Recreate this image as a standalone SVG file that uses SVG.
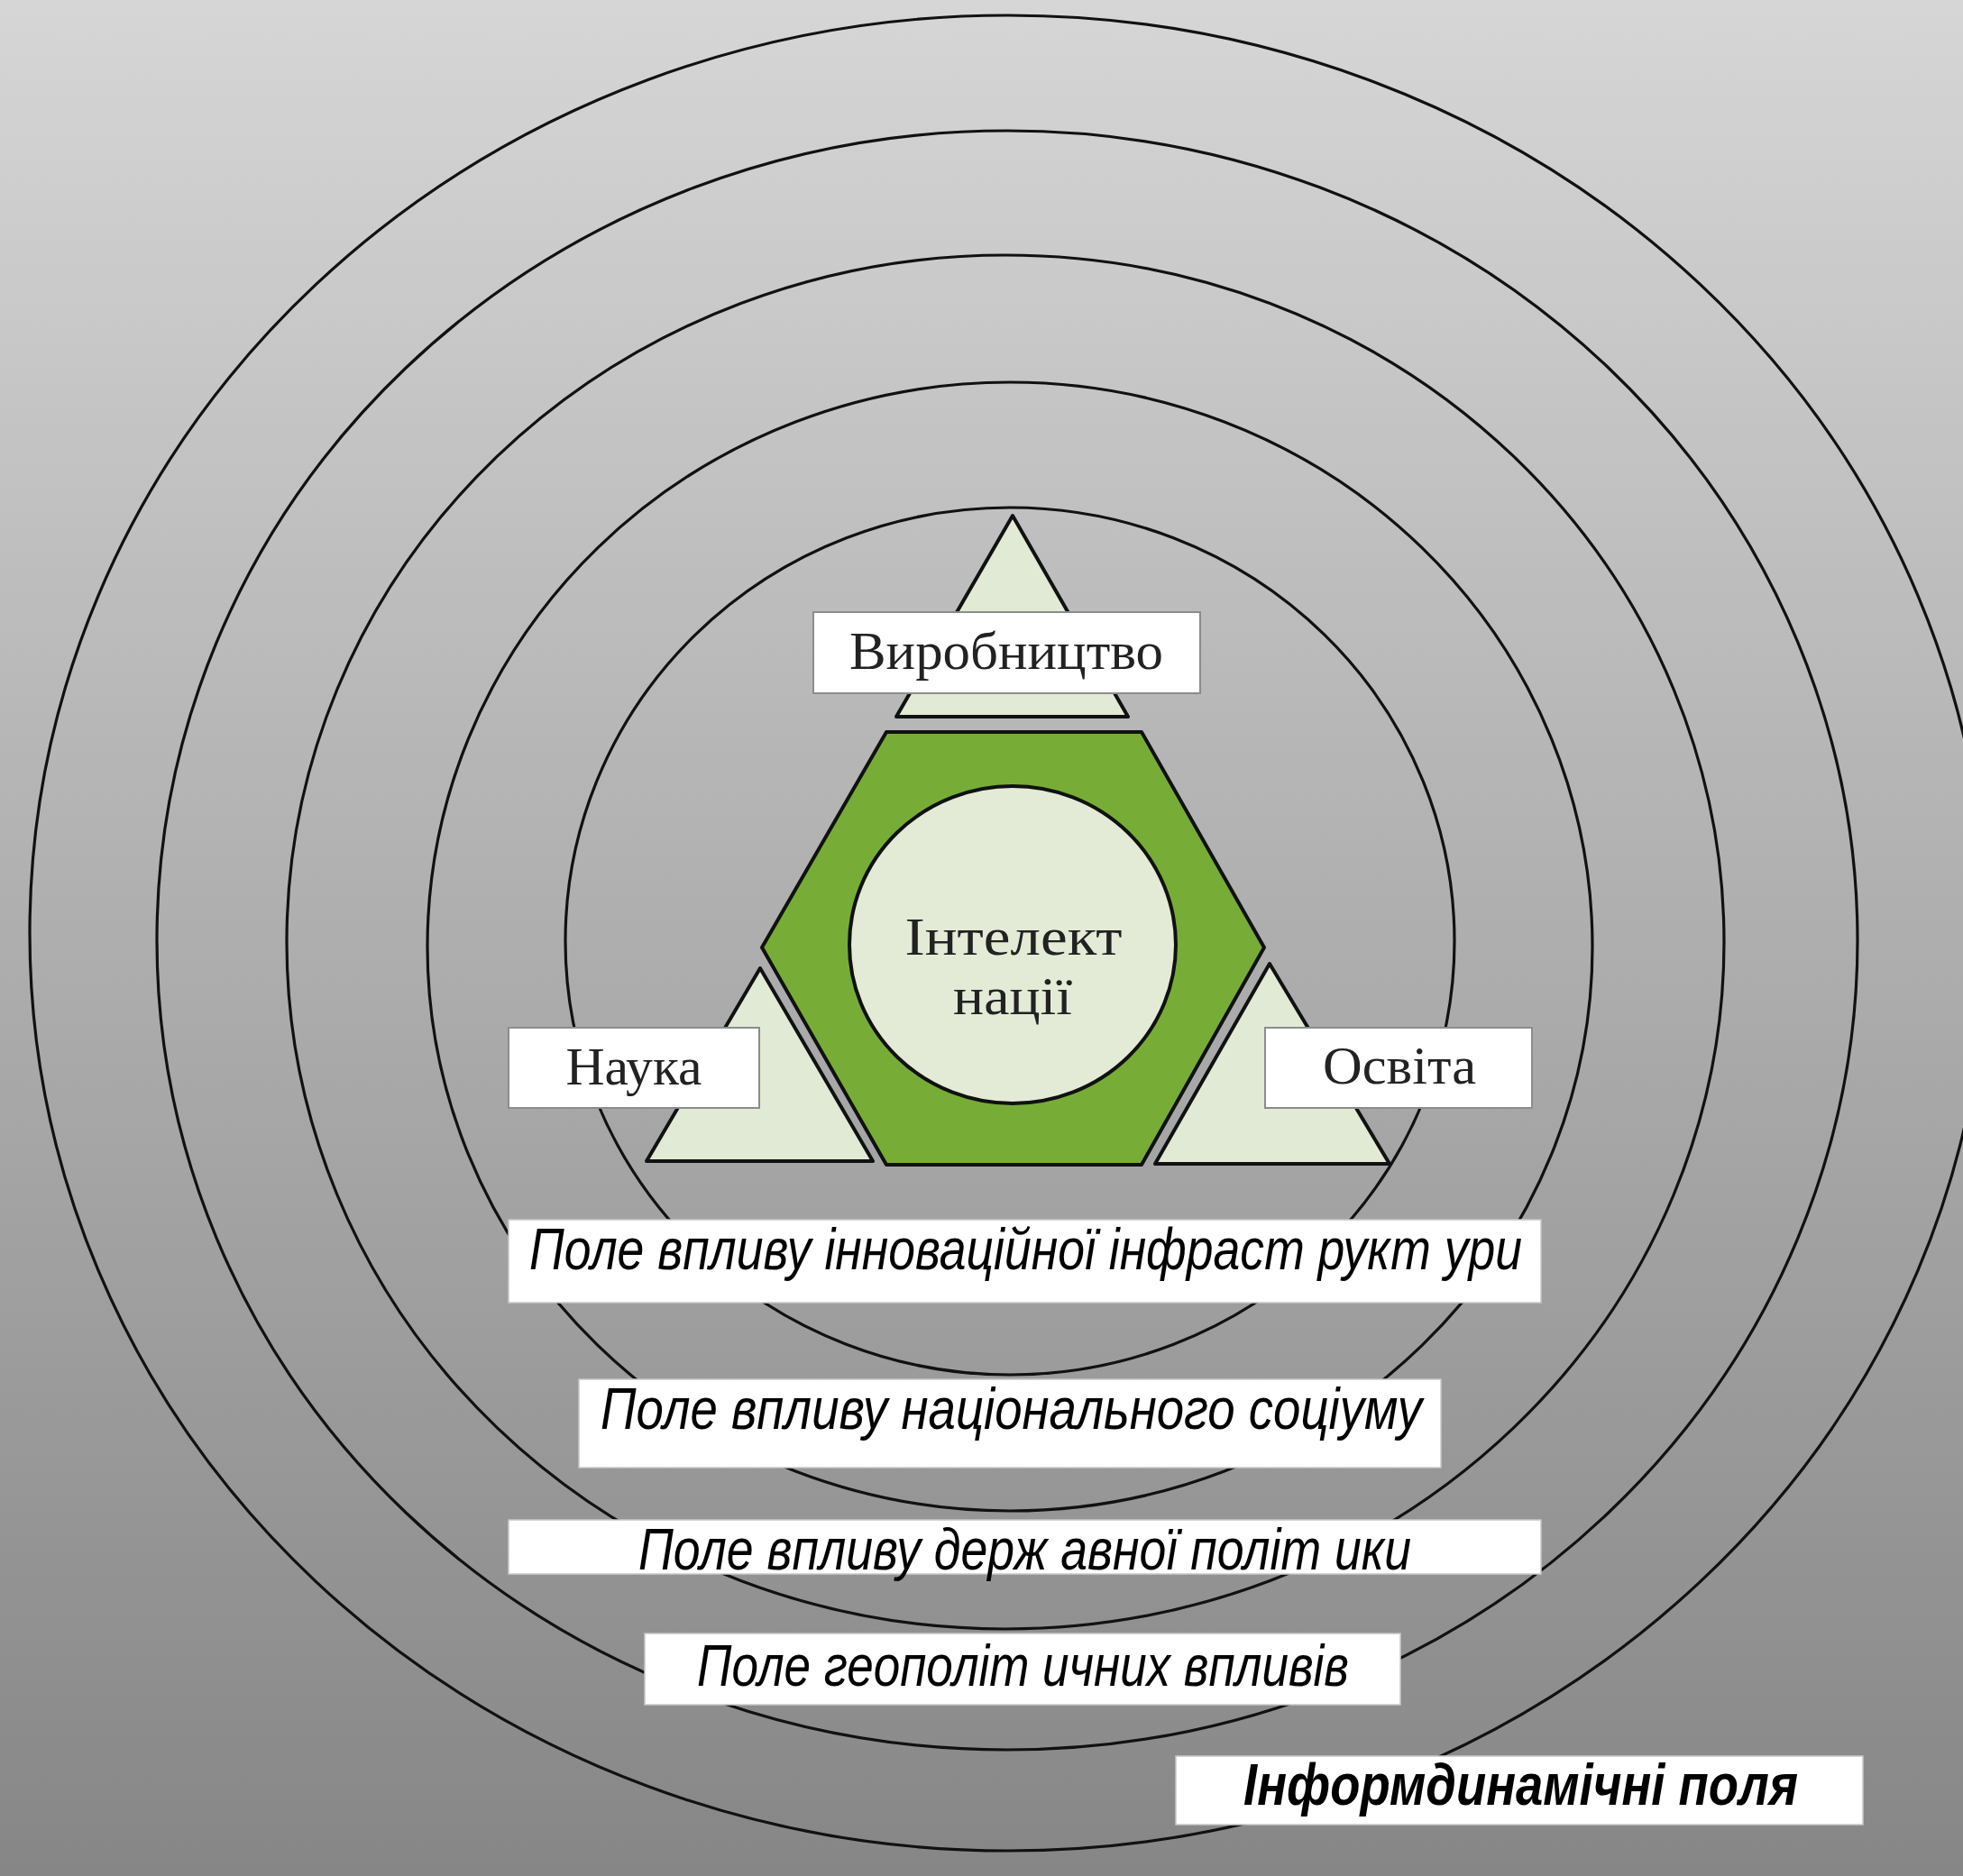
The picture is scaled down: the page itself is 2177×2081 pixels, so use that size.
<svg xmlns="http://www.w3.org/2000/svg" width="2177" height="2081" viewBox="0 0 2177 2081">
<defs>
<linearGradient id="bg" x1="0" y1="0" x2="0" y2="1">
<stop offset="0" stop-color="#d6d6d6"/>
<stop offset="1" stop-color="#868686"/>
</linearGradient>
<style>
.ring{fill:none;stroke:#111;stroke-width:3.2}
.tri{fill:#e1ead4;stroke:#111;stroke-width:4;stroke-linejoin:round}
.hex{fill:#77ad37;stroke:#111;stroke-width:4;stroke-linejoin:round}
.core{fill:#e3ebd6;stroke:#111;stroke-width:4}
.lbl{fill:#fff;stroke:#8c8c8c;stroke-width:2}
.fbox{fill:#fff;stroke:#c8c8c8;stroke-width:1.5}
.serif{font-family:"Liberation Serif","Times New Roman",serif;font-size:60px;fill:#222;text-anchor:middle}
.ital{font-family:"Liberation Sans",Arial,sans-serif;font-style:italic;font-size:64px;fill:#000}
</style>
</defs>
<rect x="0" y="0" width="2177" height="2081" fill="url(#bg)"/>
<g id="rings">
<ellipse class="ring" cx="1118" cy="1035" rx="1085" ry="1018"/>
<ellipse class="ring" cx="1117" cy="1043" rx="943" ry="898"/>
<ellipse class="ring" cx="1115" cy="1045" rx="797" ry="762"/>
<ellipse class="ring" cx="1120" cy="1050" rx="646" ry="626"/>
<ellipse class="ring" cx="1120" cy="1044" rx="493" ry="481"/>
</g>
<g id="connectors"></g>
<g id="node-vyrobnytstvo">
<polygon class="tri" points="1123,572 1251,795 994,795"/>
<rect class="lbl" x="902" y="679" width="429" height="90"/>
<text class="serif" x="1116" y="742" textLength="348" lengthAdjust="spacingAndGlyphs">Виробництво</text>
</g>
<g id="node-nauka">
<polygon class="tri" points="843,1074 968,1288 717,1288"/>
<rect class="lbl" x="564" y="1140" width="278" height="89"/>
<text class="serif" x="703" y="1203" textLength="151" lengthAdjust="spacingAndGlyphs">Наука</text>
</g>
<g id="node-osvita">
<polygon class="tri" points="1408,1069 1541,1291 1281,1291"/>
<rect class="lbl" x="1403" y="1140" width="296" height="89"/>
<text class="serif" x="1552" y="1202" textLength="170" lengthAdjust="spacingAndGlyphs">Освіта</text>
</g>
<g id="node-intelekt">
<polygon class="hex" points="983,812 1266,812 1402,1051 1266,1292 983,1292 845,1051"/>
<ellipse class="core" cx="1123" cy="1048" rx="181" ry="176"/>
<text class="serif" x="1124" y="1059" font-size="64" textLength="241" lengthAdjust="spacingAndGlyphs">Інтелект</text>
<text class="serif" x="1123" y="1125" font-size="64" textLength="132" lengthAdjust="spacingAndGlyphs">нації</text>
</g>
<g id="field-1">
<rect class="fbox" x="564" y="1353" width="1145" height="92"/>
<text class="ital" x="587" y="1408" textLength="1101" lengthAdjust="spacingAndGlyphs">Поле впливу інноваційної інфраст рукт ури</text>
</g>
<g id="field-2">
<rect class="fbox" x="642" y="1530" width="956" height="98"/>
<text class="ital" x="666" y="1585" textLength="911" lengthAdjust="spacingAndGlyphs">Поле впливу національного соціуму</text>
</g>
<g id="field-3">
<rect class="fbox" x="564" y="1686" width="1145" height="60"/>
<text class="ital" x="708" y="1741" textLength="857" lengthAdjust="spacingAndGlyphs">Поле впливу держ авної політ ики</text>
</g>
<g id="field-4">
<rect class="fbox" x="715" y="1812" width="838" height="79"/>
<text class="ital" x="773" y="1870" textLength="723" lengthAdjust="spacingAndGlyphs">Поле геополіт ичних впливів</text>
</g>
<g id="field-5">
<rect class="fbox" x="1304" y="1948" width="762" height="76"/>
<text class="ital" x="1379" y="2002" font-size="60" font-weight="bold" textLength="615" lengthAdjust="spacingAndGlyphs">Інформдинамічні поля</text>
</g>
</svg>
